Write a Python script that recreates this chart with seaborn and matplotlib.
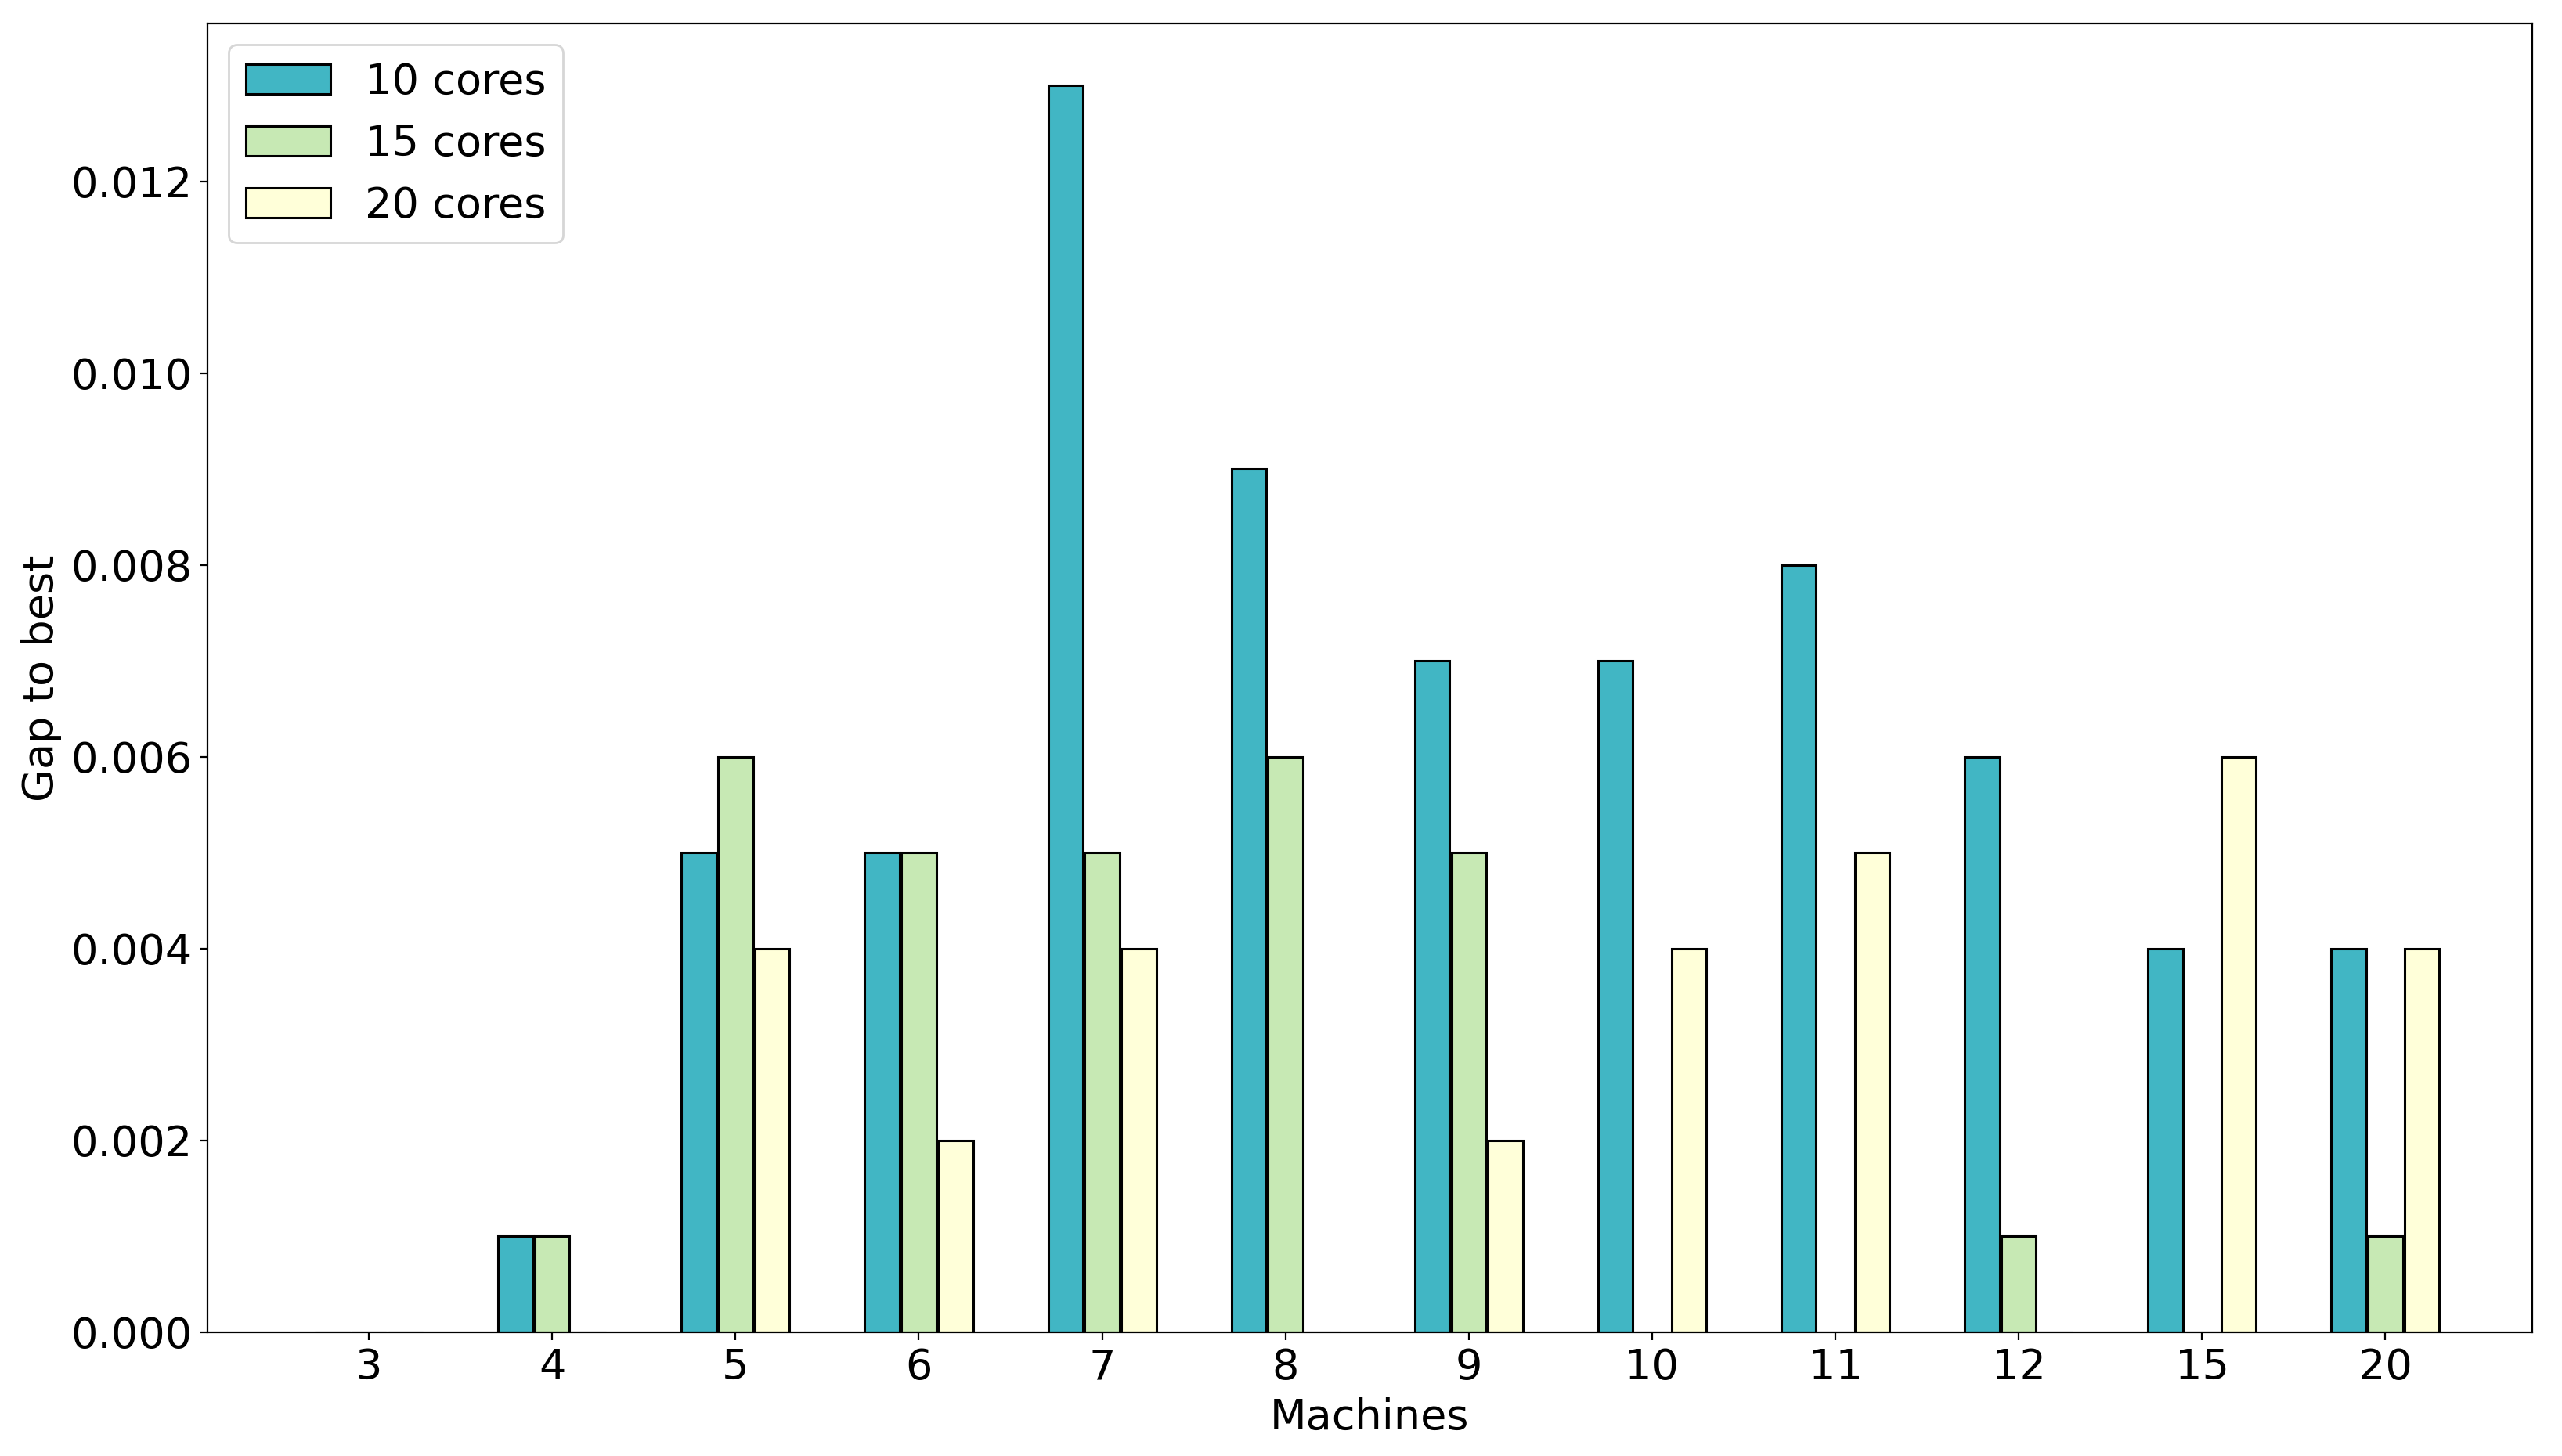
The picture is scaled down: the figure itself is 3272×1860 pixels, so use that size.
import pandas as pd
import seaborn as sns
import matplotlib as mpl
import matplotlib.pyplot as plt
mpl.use('Agg')

machines = ['3', '4', '5', '6', '7', '8', '9', '10', '11', '12', '15', '20']
gap_10 = [0.0, 0.001, 0.005, 0.005, 0.013, 0.009, 0.007, 0.007, 0.008, 0.006, 0.004, 0.004]
gap_15 = [0.0, 0.001, 0.006, 0.005, 0.005, 0.006, 0.005, 0.0, 0.0, 0.001, 0.0, 0.001]
gap_20 = [0.0, 0.0, 0.004, 0.002, 0.004, 0.0, 0.002, 0.004, 0.005, 0.0, 0.006, 0.004]
series = ['10 cores', '15 cores', '20 cores']
colors = ['#41b6c4', '#c7e9b4', '#ffffd9']

df = pd.DataFrame({'Machines': machines * 3,
                   'gap': gap_10 + gap_15 + gap_20,
                   'cores': [s for s in series for _ in machines]})

plt.rc('font', size=19.5)
fig, ax = plt.subplots(figsize=(16.365, 9.3), dpi=200)

sns.barplot(data=df, x='Machines', y='gap', hue='cores', order=machines,
            hue_order=series, palette=colors, saturation=1, width=0.6, gap=0.05,
            edgecolor='black', linewidth=1.1, ax=ax)

ax.set_xlim(-0.88, 11.8)
ax.set_ylim(0, 0.01365)
ax.set_xlabel('Machines')
ax.set_ylabel('Gap to best')
ax.legend(loc='upper left', fontsize=19.5)

fig.subplots_adjust(left=0.081, right=0.988, top=0.984, bottom=0.085)
plt.savefig('out.png', dpi=200)
plt.close(fig)
